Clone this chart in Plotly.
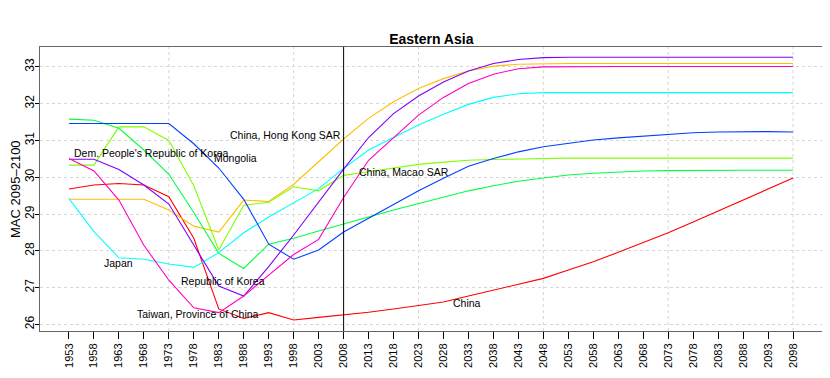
import plotly.graph_objects as go

# years (5-year steps)
years = list(range(1953, 2099, 5))

china = [29.68, 29.79, 29.83, 29.79, 29.47, 28.34, 26.42, 26.16, 26.32, 26.12,
         26.19, 26.25, 26.33, 26.42, 26.52, 26.61, 26.77, 26.93, 27.09, 27.25,
         27.48, 27.70, 27.96, 28.22, 28.49, 28.78, 29.08, 29.38, 29.68, 29.98]
hong_kong = [29.40, 29.40, 29.40, 29.40, 29.11, 28.67, 28.51, 29.38, 29.34, 29.81,
             30.42, 31.04, 31.60, 32.05, 32.41, 32.68, 32.89, 33.02, 33.07, 33.09,
             33.09, 33.09, 33.09, 33.09, 33.09, 33.09, 33.09, 33.09, 33.09, 33.09]
macao = [30.33, 30.33, 31.37, 31.37, 31.00, 29.77, 28.02, 29.24, 29.32, 29.74,
         29.63, 30.05, 30.15, 30.26, 30.35, 30.41, 30.46, 30.48, 30.50, 30.51,
         30.52, 30.52, 30.52, 30.52, 30.52, 30.52, 30.52, 30.52, 30.52, 30.52]
dprk = [31.58, 31.55, 31.33, 30.74, 30.08, 29.04, 27.93, 27.52, 28.18, 28.34,
        28.54, 28.74, 28.92, 29.11, 29.29, 29.47, 29.63, 29.77, 29.89, 29.98,
        30.06, 30.11, 30.15, 30.17, 30.18, 30.19, 30.19, 30.19, 30.19, 30.19]
japan = [29.42, 28.52, 27.81, 27.77, 27.64, 27.55, 27.95, 28.49, 28.92, 29.30,
         29.69, 30.24, 30.74, 31.08, 31.42, 31.71, 31.98, 32.17, 32.27, 32.30,
         32.30, 32.30, 32.30, 32.30, 32.30, 32.30, 32.30, 32.30, 32.30, 32.30]
mongolia = [31.46, 31.46, 31.46, 31.46, 31.46, 30.91, 30.25, 29.40, 28.18, 27.77,
            28.02, 28.51, 28.88, 29.27, 29.63, 29.97, 30.30, 30.51, 30.69, 30.83,
            30.93, 31.01, 31.07, 31.12, 31.17, 31.21, 31.23, 31.24, 31.24, 31.23]
rok = [30.49, 30.49, 30.21, 29.79, 29.27, 28.15, 27.04, 26.77, 27.57, 28.43,
       29.33, 30.22, 31.08, 31.73, 32.21, 32.59, 32.89, 33.09, 33.20, 33.25,
       33.26, 33.26, 33.26, 33.26, 33.26, 33.26, 33.26, 33.26, 33.26, 33.26]
taiwan = [30.51, 30.17, 29.38, 28.15, 27.20, 26.45, 26.32, 26.77, 27.34, 27.90,
          28.31, 29.45, 30.46, 31.08, 31.69, 32.17, 32.55, 32.80, 32.95, 33.00,
          33.01, 33.01, 33.01, 33.01, 33.01, 33.01, 33.01, 33.01, 33.01, 33.01]

series = [
    ("China", china, "#FF0000"),
    ("China, Hong Kong SAR", hong_kong, "#FFBF00"),
    ("China, Macao SAR", macao, "#80FF00"),
    ("Dem. People's Republic of Korea", dprk, "#00FF40"),
    ("Japan", japan, "#00FFFF"),
    ("Mongolia", mongolia, "#0040FF"),
    ("Republic of Korea", rok, "#8000FF"),
    ("Taiwan, Province of China", taiwan, "#FF00BF"),
]

# label positions (year, value) as placed in the original
label_pos = {
    "China": (2032.7, 26.59),
    "China, Hong Kong SAR": (1996.4, 31.16),
    "China, Macao SAR": (2020.0, 30.13),
    "Dem. People's Republic of Korea": (1969.4, 30.65),
    "Japan": (1963.0, 27.67),
    "Mongolia": (1986.3, 30.51),
    "Republic of Korea": (1983.8, 27.18),
    "Taiwan, Province of China": (1978.9, 26.28),
}

grid_years = years[4::5]
cut_year = 2008

fig = go.Figure()
for name, vals, col in series:
    fig.add_trace(go.Scatter(x=years, y=vals, mode="lines", name=name,
                             line=dict(color=col, width=1.1)))
    lx, ly = label_pos[name]
    fig.add_annotation(x=lx, y=ly, text=name, showarrow=False,
                       font=dict(size=10.5, color="black"))

# y axis title as rotated annotation (keeps it clear of the rotated tick labels)
fig.add_annotation(x=-0.032, y=0.5, xref="paper", yref="paper", text="MAC 2095\u20132100",
                   xanchor="center", yanchor="middle",
                   textangle=-90, showarrow=False, font=dict(size=13, color="black"))

# dotted vertical grid
for gy in grid_years:
    fig.add_shape(type="line", x0=gy, x1=gy, y0=0, y1=1, xref="x", yref="paper",
                  line=dict(color="#d6d6d6", width=1, dash="dot"), layer="below")

fig.add_shape(type="line", x0=cut_year, x1=cut_year, y0=0, y1=1, xref="x", yref="paper",
              line=dict(color="black", width=1))

# page body adds an 8px offset, margins compensate for it
fig.update_layout(
    width=830, height=378,
    margin=dict(l=32, r=16, t=39, b=55),
    paper_bgcolor="white", plot_bgcolor="white",
    showlegend=False,
    font=dict(family="Liberation Sans, Arial, sans-serif", color="black"),
    title=dict(text="<b>Eastern Asia</b>", x=0.51, xanchor="center",
               y=1 - 31 / 378, yanchor="middle", yref="container",
               font=dict(size=14, color="black")),
)
fig.update_xaxes(range=[1947.2, 2103.8], tickmode="array", tickvals=years,
                 ticktext=[str(y) for y in years], tickangle=-90,
                 tickfont=dict(size=11), ticks="outside", ticklen=7,
                 tickcolor="black", showgrid=False, zeroline=False, automargin=False,
                 showline=True, mirror=True, linecolor="#666", linewidth=1)
fig.update_yaxes(range=[25.82, 33.54], tickmode="array", tickvals=list(range(26, 34)),
                 tickangle=-90, tickfont=dict(size=12), ticks="outside", ticklen=4,
                 ticklabelstandoff=-4,
                 tickcolor="black", showgrid=True, gridcolor="#d6d6d6",
                 griddash="dot", zeroline=False, showline=True, mirror=True,
                 linecolor="#666", linewidth=1, automargin=False)

fig.write_html("out.html")
